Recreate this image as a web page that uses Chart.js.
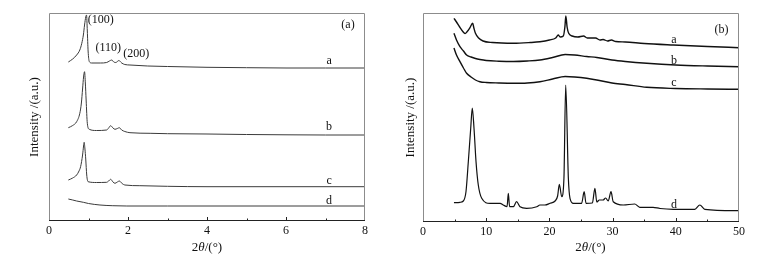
<!DOCTYPE html>
<html>
<head>
<meta charset="utf-8">
<script src="https://cdn.jsdelivr.net/npm/chart.js@4"></script>
<style>
  html, body { margin: 0; padding: 0; background: #fff; }
  #wrap { position: relative; width: 759px; height: 260px; }
  .panel { position: absolute; top: 0; height: 260px; }
</style>
</head>
<body>
<div id="wrap">
  <div class="panel" style="left:0;width:380px"><canvas id="chartA"></canvas></div>
  <div class="panel" style="left:380px;width:379px"><canvas id="chartB"></canvas></div>
</div>
<script>
// ---- panel (a): small-angle XRD, 2theta 0-8 ----
const thetaA_a = [0.49, 0.6, 0.7, 0.78, 0.83, 0.87, 0.9, 0.93, 0.95, 0.97, 0.99, 1.02, 1.08, 1.3, 1.46, 1.53, 1.59, 1.64, 1.69, 1.77, 1.84, 1.92, 2.05, 2.5, 3, 4, 5, 6, 7, 8];
const intA_a   = [159, 162, 166, 171, 177.7, 186, 196, 204, 206, 190, 170, 159.5, 158, 158, 158.5, 160, 161, 159, 158.5, 160.5, 158, 156.5, 156, 155, 154.5, 153.7, 153.3, 153, 153, 153];
const thetaA_b = [0.49, 0.6, 0.7, 0.78, 0.82, 0.85, 0.875, 0.9, 0.92, 0.94, 0.97, 1.02, 1.2, 1.46, 1.51, 1.56, 1.62, 1.67, 1.73, 1.78, 1.84, 1.92, 2.05, 2.56, 3, 4, 5, 6, 7, 8];
const intA_b   = [93.3, 95.5, 99.3, 107.7, 118, 132, 144, 149.3, 138, 121, 97.7, 91.7, 90.5, 91, 93, 95.3, 93, 91.7, 92.5, 93.3, 91, 89.5, 88.3, 87.7, 87.3, 87, 86.5, 86.2, 86, 86];
const thetaA_c = [0.49, 0.6, 0.7, 0.76, 0.8, 0.85, 0.875, 0.89, 0.91, 0.93, 0.955, 0.99, 1.2, 1.46, 1.51, 1.56, 1.62, 1.67, 1.73, 1.78, 1.85, 1.92, 2.3, 3, 4, 8];
const intA_c   = [41, 43, 46, 50, 54.3, 66, 75, 78.7, 72, 62, 46, 39.3, 38.5, 38.7, 40, 41.7, 39, 37.7, 39, 40, 37.5, 36, 35.3, 34.7, 34.3, 34.3];
const thetaA_d = [0.49, 0.6, 0.7, 0.87, 1.0, 1.29, 1.6, 1.97, 3, 8];
const intA_d   = [22, 21, 20, 18.7, 17.5, 16, 15.3, 15, 15, 15];
const ticksA = [0, 2, 4, 6, 8];

// ---- panel (b): wide-angle XRD, 2theta 0-50 ----
const thetaB_a = [4.9, 5.3, 5.8, 6.3, 6.65, 7.0, 7.4, 7.86, 8.05, 8.3, 8.8, 9.5, 11, 14.3, 17, 18.5, 20, 21.0, 21.4, 21.7, 22.2, 22.45, 22.6, 22.8, 23.05, 23.6, 24.5, 25.4, 26, 27.3, 28, 28.5, 29.2, 29.8, 30.5, 32, 35, 39.6, 45, 50];
const intB_a   = [203.7, 200, 195, 190.5, 188.5, 190.5, 194, 198.7, 194, 188.7, 184, 181, 179.5, 178.7, 179.5, 180.3, 182, 184, 187, 185, 186, 195, 206, 195, 188.7, 186, 185, 186, 184, 184, 182, 182.5, 181, 182, 180.5, 180, 178.5, 177, 175.5, 174.3];
const thetaB_bc = [4.9, 5.3, 5.85, 6.4, 6.9, 7.6, 8.3, 9, 10, 12, 14.3, 16.5, 18.5, 20.5, 22.5, 24, 25.9, 27.5, 29.9, 32, 35.4, 40, 45, 50];
const intB_b   = [188.7, 182, 175.3, 171, 167, 165, 163.5, 162.5, 161.5, 160.8, 160.5, 161, 162, 164.5, 167.5, 167, 165.5, 164.5, 162, 160.5, 158.7, 157, 156, 155.3];
const intB_c   = [174, 167, 160.3, 154, 148.7, 145, 142, 140.3, 139.5, 139, 138.7, 139, 140.3, 143, 145.5, 145, 143.7, 142, 139, 137.5, 134.7, 133.5, 133, 132.7];
const thetaB_d = [4.9, 5.85, 6.38, 6.8, 7.17, 7.55, 7.8, 8.07, 8.39, 8.75, 9.29, 10.6, 12.2, 12.7, 13.3, 13.5, 13.7, 14.3, 14.8, 15.35, 16.4, 18.0, 18.5, 19.3, 20.1, 20.9, 21.3, 21.57, 21.95, 22.3, 22.58, 23.0, 23.26, 23.8, 25.1, 25.5, 25.8, 26.8, 27.2, 27.5, 27.9, 28.5, 28.9, 29.3, 29.75, 30.1, 31.7, 33.5, 34.3, 36.4, 37.5, 39.6, 43.0, 43.8, 44.6, 50];
const intB_d   = [19.3, 19.7, 21, 30.3, 60.3, 93.7, 114, 93.7, 60.3, 37, 23.7, 18.7, 18.7, 17, 15.3, 28.7, 15.3, 15.3, 20.3, 15.3, 13.7, 15.3, 17, 17, 18.7, 21, 26, 37.7, 25.3, 43.7, 137, 43.7, 23.7, 18.7, 18.7, 30.3, 18.7, 19, 33.7, 20, 22, 22, 24, 21, 30.3, 20.3, 17, 18, 14.7, 14.7, 13.5, 12.7, 12.7, 17, 12.7, 11.3];
const ticksB = [0, 10, 20, 30, 40, 50];

const serif = '"Liberation Serif", "Times New Roman", serif';

function pts(xs, ys) {
  return xs.map((x, i) => ({ x: x, y: ys[i] }));
}

function line(xs, ys, color, width) {
  return {
    data: pts(xs, ys),
    borderColor: color,
    borderWidth: width,
    pointRadius: 0,
    fill: false,
    cubicInterpolationMode: 'monotone'
  };
}

// frame, inward ticks, curve labels and x title
const decor = {
  id: 'decor',
  afterDraw(chart, args, opts) {
    const { ctx, chartArea: ca, scales: { x, y } } = chart;
    ctx.save();
    ctx.lineWidth = 1;
    ctx.strokeStyle = '#8c8c8c';
    ctx.beginPath();
    ctx.moveTo(Math.round(ca.left) + 0.5, Math.round(ca.top) + 0.5);
    ctx.lineTo(Math.round(ca.right) - 0.5, Math.round(ca.top) + 0.5);
    ctx.lineTo(Math.round(ca.right) - 0.5, Math.round(ca.bottom) - 0.5);
    ctx.moveTo(Math.round(ca.left) + 0.5, Math.round(ca.top) + 0.5);
    ctx.lineTo(Math.round(ca.left) + 0.5, Math.round(ca.bottom) - 0.5);
    ctx.stroke();
    ctx.strokeStyle = '#222';
    ctx.beginPath();
    ctx.moveTo(Math.round(ca.left), Math.round(ca.bottom) - 0.5);
    ctx.lineTo(Math.round(ca.right), Math.round(ca.bottom) - 0.5);
    ctx.stroke();

    // inward tick marks
    ctx.beginPath();
    for (let v = x.min + opts.minor; v < x.max - 1e-9; v += opts.minor) {
      const px = Math.round(x.getPixelForValue(v)) + 0.5;
      const major = Math.abs(v / opts.major - Math.round(v / opts.major)) < 1e-6;
      ctx.moveTo(px, ca.bottom);
      ctx.lineTo(px, ca.bottom - (major ? 4 : 2.5));
    }
    ctx.stroke();

    ctx.fillStyle = '#111';
    ctx.textAlign = 'center';
    ctx.textBaseline = 'middle';
    ctx.font = '12px ' + serif;
    opts.labels.forEach(l => {
      ctx.fillText(l.text, x.getPixelForValue(l.x), y.getPixelForValue(l.y));
    });

    // x title: 2θ/(°) with italic theta
    const parts = [['2', false], ['\u03b8', true], ['/(\u00b0)', false]];
    const fontFor = it => (it ? 'italic ' : '') + '13px ' + serif;
    let w = 0;
    parts.forEach(p => { ctx.font = fontFor(p[1]); w += ctx.measureText(p[0]).width; });
    let tx = x.getPixelForValue(opts.titleX) - w / 2;
    ctx.textAlign = 'left';
    parts.forEach(p => {
      ctx.font = fontFor(p[1]);
      ctx.fillText(p[0], tx, 248);
      tx += ctx.measureText(p[0]).width;
    });
    ctx.restore();
  }
};

function makeChart(id, cfg) {
  return new Chart(document.getElementById(id), {
    type: 'line',
    data: { datasets: cfg.datasets },
    options: {
      responsive: true,
      maintainAspectRatio: false,
      animation: false,
      layout: { padding: { left: 0, right: cfg.padRight, top: 13, bottom: 0 } },
      plugins: {
        legend: { display: false },
        tooltip: { enabled: false },
        decor: cfg.decor
      },
      scales: {
        x: {
          type: 'linear',
          min: cfg.xMin,
          max: cfg.xMax,
          afterBuildTicks: s => { s.ticks = cfg.ticks.map(v => ({ value: v })); },
          ticks: { color: '#111', font: { family: serif, size: 12 }, padding: 3, maxRotation: 0 },
          grid: { display: false, drawTicks: false },
          border: { display: false },
          afterFit: s => { s.height = cfg.axisH; }
        },
        y: {
          min: 0,
          max: cfg.yMax,
          ticks: { display: false },
          grid: { display: false, drawTicks: false },
          border: { display: false },
          title: {
            display: true,
            text: 'Intensity /(a.u.)',
            color: '#111',
            font: { family: serif, size: 13 },
            padding: { top: cfg.titlePad, bottom: 0 }
          },
          afterFit: s => { s.width = cfg.axisW; }
        }
      }
    },
    plugins: [decor]
  });
}

makeChart('chartA', {
  datasets: [
    line(thetaA_a, intA_a, '#3a3a3a', 1),
    line(thetaA_b, intA_b, '#3a3a3a', 1),
    line(thetaA_c, intA_c, '#3a3a3a', 1),
    line(thetaA_d, intA_d, '#3a3a3a', 1)
  ],
  xMin: 0, xMax: 8, ticks: ticksA, yMax: 208,
  padRight: 15, axisH: 39, axisW: 49, titlePad: 27,
  decor: {
    minor: 1, major: 2, titleX: 4.0,
    labels: [
      { text: '(100)', x: 1.31, y: 201 },
      { text: '(110)', x: 1.50, y: 173 },
      { text: '(200)', x: 2.21, y: 167.5 },
      { text: '(a)', x: 7.57, y: 196 },
      { text: 'a', x: 7.09, y: 160 },
      { text: 'b', x: 7.09, y: 94.5 },
      { text: 'c', x: 7.09, y: 40 },
      { text: 'd', x: 7.09, y: 20.5 }
    ]
  }
});

makeChart('chartB', {
  datasets: [
    line(thetaB_a, intB_a, '#111', 1.4),
    line(thetaB_bc, intB_b, '#111', 1.4),
    line(thetaB_bc, intB_c, '#111', 1.4),
    line(thetaB_d, intB_d, '#111', 1.2)
  ],
  xMin: 0, xMax: 50, ticks: ticksB, yMax: 209,
  padRight: 20, axisH: 38, axisW: 43, titlePad: 23,
  decor: {
    minor: 5, major: 10, titleX: 26.5,
    labels: [
      { text: '(b)', x: 47.25, y: 192.5 },
      { text: 'a', x: 39.7, y: 182 },
      { text: 'b', x: 39.7, y: 161 },
      { text: 'c', x: 39.7, y: 139.5 },
      { text: 'd', x: 39.7, y: 17 }
    ]
  }
});
</script>
</body>
</html>
